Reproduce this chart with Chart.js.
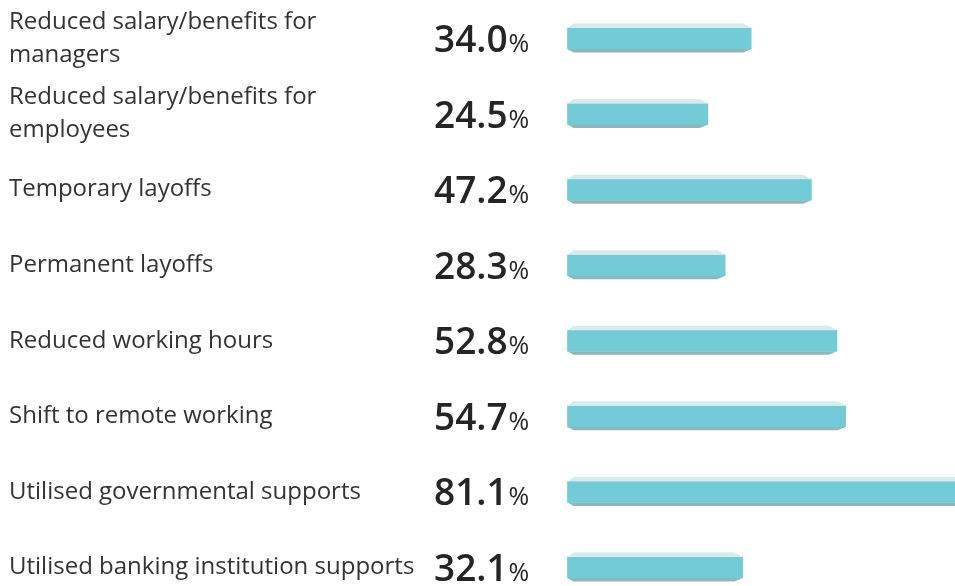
<!DOCTYPE html>
<html>
<head>
<meta charset="utf-8">
<script src="https://cdn.jsdelivr.net/npm/chart.js@4.4.0/dist/chart.umd.min.js"></script>
<style>
  html, body { margin: 0; padding: 0; background: #fff; }
  #wrap { width: 955px; height: 586px; position: relative; }
</style>
</head>
<body>
<div id="wrap"><canvas id="measuresChart"></canvas></div>
<script>
// measures taken, share of respondents (%)
const categories = [
  ['Reduced salary/benefits for', 'managers'],
  ['Reduced salary/benefits for', 'employees'],
  'Temporary layoffs',
  'Permanent layoffs',
  'Reduced working hours',
  'Shift to remote working',
  'Utilised governmental supports',
  'Utilised banking institution supports'
];
const shares = [34.0, 24.5, 47.2, 28.3, 52.8, 54.7, 81.1, 32.1];

// bars start a little left of zero in the original
const axisMin = -6.3;
const axisMax = 78.7;

const barColor = '#72cbd6';
const topColor = '#d4ecec';
const bottomColor = '#8fb6bd';
const textColor = '#252525';

// draws the bevel strips and the value column
const bevelPlugin = {
  id: 'bevel',
  afterDatasetsDraw(chart) {
    const ctx = chart.ctx;
    const meta = chart.getDatasetMeta(0);
    meta.data.forEach((bar, i) => {
      const { x, y, base, height } = bar.getProps(['x', 'y', 'base', 'height'], true);
      const top = y - height / 2;
      const bottom = y + height / 2;
      ctx.save();
      ctx.fillStyle = topColor;
      ctx.beginPath();
      ctx.moveTo(base, top);
      ctx.lineTo(base + 6, top - 4.5);
      ctx.lineTo(x - 8, top - 4.5);
      ctx.lineTo(x, top);
      ctx.closePath();
      ctx.fill();

      ctx.fillStyle = bottomColor;
      ctx.beginPath();
      ctx.moveTo(base, bottom);
      ctx.lineTo(base + 6, bottom + 3.5);
      ctx.lineTo(x - 8, bottom + 3.5);
      ctx.lineTo(x, bottom);
      ctx.closePath();
      ctx.fill();

      // value text
      const val = shares[i].toFixed(1);
      ctx.fillStyle = textColor;
      ctx.textBaseline = 'alphabetic';
      ctx.textAlign = 'left';
      ctx.font = '600 37px "Open Sans"';
      ctx.fillText(val, 434, y + 13.5);
      const w = ctx.measureText(val).width;
      ctx.font = '400 25px "Open Sans"';
      ctx.fillText('%', 434 + w + 1, y + 13.5);
      ctx.restore();
    });
  }
};

const ctx = document.getElementById('measuresChart').getContext('2d');
new Chart(ctx, {
  type: 'bar',
  data: {
    labels: categories,
    datasets: [{
      data: shares,
      base: axisMin,
      backgroundColor: barColor,
      borderWidth: 0,
      barThickness: 21,
      clip: false
    }]
  },
  options: {
    indexAxis: 'y',
    responsive: true,
    maintainAspectRatio: false,
    animation: false,
    layout: {
      padding: { left: 9, top: 38.5, bottom: 18.5, right: 0 }
    },
    plugins: {
      legend: { display: false },
      tooltip: { enabled: false }
    },
    scales: {
      x: {
        display: false,
        min: axisMin,
        max: axisMax
      },
      y: {
        offset: false,
        grid: { display: false },
        border: { display: false },
        afterFit: function (scale) {
          scale.width = 558.5;
          scale.paddingTop = 0;
          scale.paddingBottom = 0;
        },
        ticks: {
          crossAlign: 'far',
          padding: 0,
          color: '#333',
          font: { family: 'Open Sans', size: 24, lineHeight: 1.38 }
        }
      }
    }
  },
  plugins: [bevelPlugin]
});
</script>
</body>
</html>
